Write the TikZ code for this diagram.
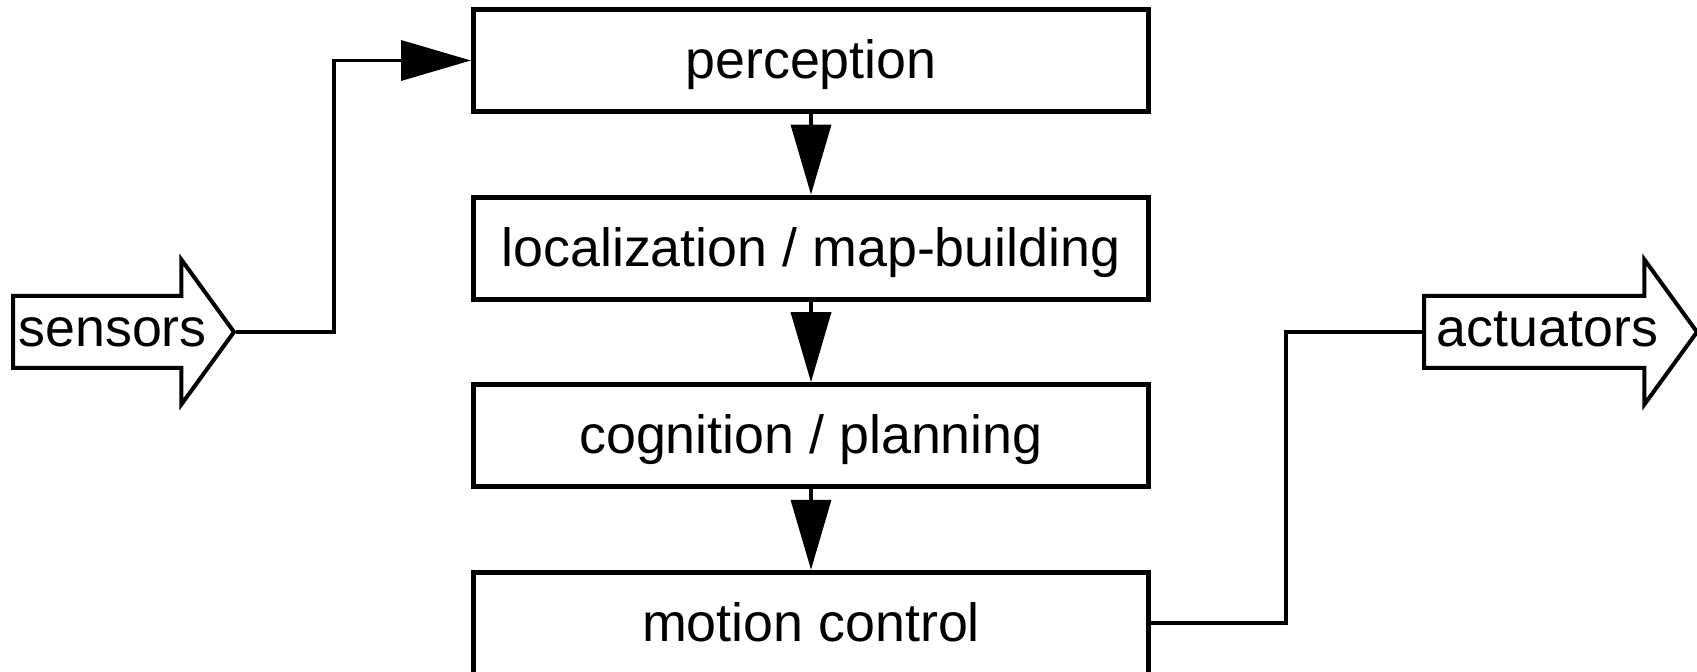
\documentclass[tikz,border=0pt]{standalone}
\usepackage{fontspec}
\setmainfont{Liberation Sans}
\usetikzlibrary{positioning,shapes.arrows,arrows.meta}

\begin{document}
\begin{tikzpicture}[
  block/.style={draw,line width=2.5pt,minimum width=337.5pt,minimum height=51pt,inner sep=0pt,text height=24.5pt,text depth=6.5pt},
  port/.style={single arrow,draw,line width=2pt,single arrow head extend=18.25pt,single arrow tip angle=108,single arrow head indent=0pt,inner xsep=3pt,inner ysep=0pt,text height=24.5pt,text depth=9.5pt},
  flow/.style={line width=1.8pt,-{Triangle[length=35pt,width=20pt]}},
  wire/.style={line width=1.8pt},
  font=\fontsize{26.9pt}{32pt}\selectfont,
  node distance=40.3pt
]
  \useasboundingbox (0,0) rectangle (848.5pt,-336pt);
  \node[block] (perc) at (405.5pt,-30.25pt) {perception};
  \node[block,below=of perc] (loc) {localization / map-building};
  \node[block,below=of loc] (cog) {cognition / planning};
  \node[block,below=of cog] (mot) {motion control};

  % the label runs on into the head, as in the drawing
  \node[port,minimum height=110.5pt,anchor=tail] (sens) at (5.5pt,-166pt) {\makebox[79pt][l]{\hspace*{-6.5pt}sensors}};
  \node[port,minimum height=136.5pt,anchor=tail] (act) at (711pt,-166pt) {actuators};

  \coordinate (sbend) at (167pt,-166pt);
  \coordinate (abend) at (643pt,-166pt);
  \draw[flow] (sens.tip) -- (sbend) |- (perc.west);
  \draw[flow] (perc) -- (loc);
  \draw[flow] (loc) -- (cog);
  \draw[flow] (cog) -- (mot);
  \draw[wire] (mot.east) -| (abend) -- (act.tail);
\end{tikzpicture}
\end{document}
